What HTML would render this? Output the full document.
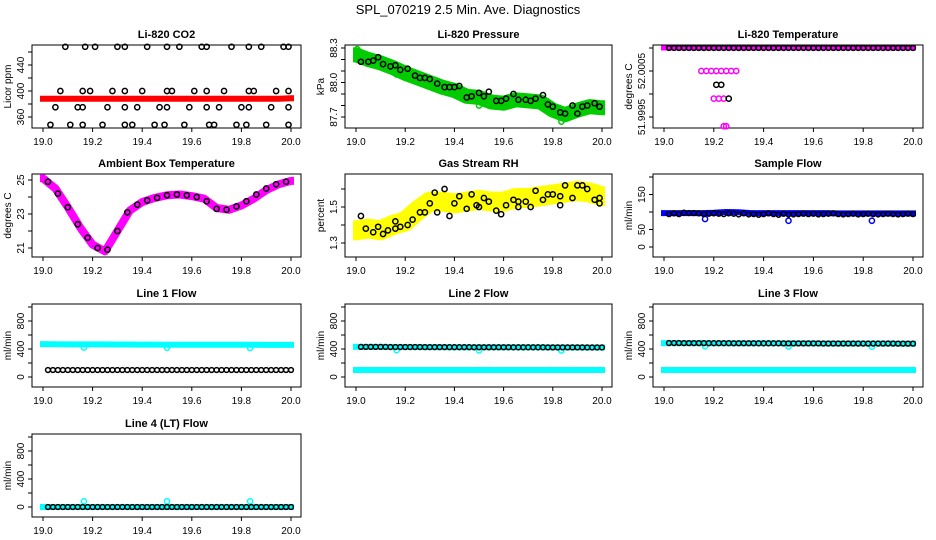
<!DOCTYPE html>
<html><head><meta charset="utf-8"><style>
html,body{margin:0;padding:0;background:#fff}
svg{display:block;font-family:"Liberation Sans",sans-serif}
</style></head><body>
<svg id="c" width="936" height="540" viewBox="0 0 936 540" xmlns="http://www.w3.org/2000/svg">
<text x="468" y="14" text-anchor="middle" font-size="13">SPL_070219  2.5 Min. Ave. Diagnostics</text>
</svg>
<script>
// ---- data arrays ----
const xTickLabels = ["19.0","19.2","19.4","19.6","19.8","20.0"];
const xTicks = [19.0,19.2,19.4,19.6,19.8,20.0];
const bandX = [19.0,19.05,19.1,19.15,19.2,19.25,19.3,19.35,19.4,19.45,19.5,19.55,19.6,19.65,19.7,19.75,19.8,19.85,19.9,19.95,20.0];
// CO2
const co2Red = [388,388,388,388,388,388,388,388,388,388,388,388,388,388,388,388,388,388,388,388,389];
const co2BlackX = [19.09,19.17,19.21,19.30,19.33,19.42,19.50,19.55,19.64,19.66,19.76,19.83,19.88,19.97,19.99,
 19.07,19.16,19.19,19.28,19.33,19.40,19.50,19.52,19.61,19.66,19.73,19.83,19.85,19.94,19.99,
 19.05,19.14,19.16,19.26,19.33,19.38,19.47,19.50,19.59,19.66,19.71,19.80,19.83,19.92,19.99,
 19.03,19.11,19.16,19.24,19.33,19.36,19.45,19.49,19.57,19.67,19.69,19.78,19.82,19.90,19.99];
const co2BlackY = [468,468,468,468,468,468,468,468,468,468,468,468,468,468,468,
 400,400,400,400,400,400,400,400,400,400,400,400,400,400,400,
 375,375,375,375,375,375,375,375,375,375,375,375,375,375,375,
 348,348,348,348,348,348,348,348,348,348,348,348,348,348,348];
// Pressure
const presGreen = [88.24,88.2,88.17,88.13,88.08,88.04,88.0,87.96,87.93,87.88,87.87,87.83,87.82,87.85,87.84,87.83,87.76,87.72,87.76,87.79,87.78];
const presBlackX = [19.02,19.05,19.07,19.09,19.11,19.14,19.16,19.18,19.21,19.24,19.26,19.28,19.30,19.33,19.36,19.38,19.40,19.42,19.45,19.47,19.50,19.52,19.54,19.57,19.59,19.61,19.64,19.66,19.69,19.71,19.73,19.76,19.78,19.80,19.83,19.85,19.88,19.90,19.92,19.94,19.97,19.99];
const presBlack = [88.18,88.18,88.19,88.22,88.16,88.14,88.15,88.11,88.12,88.06,88.04,88.04,88.03,87.99,87.96,87.96,87.96,87.97,87.87,87.88,87.91,87.88,87.92,87.84,87.84,87.86,87.90,87.85,87.85,87.84,87.86,87.89,87.81,87.79,87.74,87.73,87.80,87.73,87.79,87.80,87.82,87.79];
const presGreenOut = [[19.005,88.29],[19.165,88.07],[19.5,87.8],[19.835,87.66]];
// Li-820 temperature
const tempMain = 52.001;
const tempClusterX = [19.15,19.17,19.19,19.21,19.23,19.25,19.27,19.29,19.21,19.23,19.2,19.22,19.24,19.26,19.24,19.25];
const tempClusterY = [52.0005,52.0005,52.0005,52.0005,52.0005,52.0005,52.0005,52.0005,52.0002,52.0002,51.9999,51.9999,51.9999,51.9999,51.9993,51.9993];
const tempClusterC = ["m","m","m","m","m","m","m","m","k","k","m","m","m","k","m","m"];
// Ambient
const ambBand = [25.1,24.5,23.4,22.2,21.2,20.8,22.0,23.2,23.7,23.95,24.1,24.15,24.05,23.9,23.35,23.25,23.5,23.9,24.4,24.75,24.95];
const ambBlackX = [19.02,19.06,19.10,19.14,19.18,19.22,19.26,19.30,19.34,19.38,19.42,19.46,19.50,19.54,19.58,19.62,19.66,19.70,19.74,19.78,19.82,19.86,19.90,19.94,19.98];
const ambBlack = [24.9,24.2,23.4,22.4,21.6,21.0,20.9,22.0,23.1,23.55,23.8,23.95,24.1,24.15,24.1,24.0,23.75,23.3,23.25,23.45,23.75,24.15,24.5,24.75,24.9];
// RH
const rhBand = [1.37,1.38,1.37,1.40,1.42,1.48,1.53,1.53,1.52,1.53,1.54,1.53,1.53,1.55,1.55,1.56,1.57,1.58,1.59,1.58,1.56];
const rhBlackX = [19.02,19.04,19.07,19.09,19.11,19.13,19.16,19.16,19.18,19.21,19.23,19.26,19.28,19.30,19.32,19.33,19.36,19.38,19.40,19.42,19.45,19.47,19.49,19.50,19.52,19.54,19.57,19.59,19.61,19.64,19.66,19.66,19.69,19.71,19.73,19.76,19.78,19.80,19.83,19.83,19.85,19.88,19.90,19.92,19.94,19.97,19.99,19.99];
const rhBlack = [1.45,1.38,1.36,1.39,1.35,1.37,1.42,1.38,1.39,1.40,1.43,1.47,1.47,1.52,1.58,1.47,1.60,1.45,1.52,1.56,1.49,1.57,1.51,1.50,1.55,1.53,1.48,1.46,1.51,1.54,1.50,1.53,1.53,1.50,1.59,1.54,1.57,1.57,1.56,1.51,1.62,1.55,1.62,1.62,1.60,1.54,1.55,1.52];
// Sample flow
const sfBand = [97,97,97,97,98,100,99,97,97,97,97,97,97,97,96,96,96,96,96,96,96];
const sfBlack = [93,94,96,94,98,97,97,96,94,95,96,95,94,96,95,93,96,93,94,92,94,96,94,92,95,93,94,95,94,95,93,94,95,96,94,93,94,95,93,94,95,94,93,94,95,94,93,94,95,94];
const dipX = [19.165,19.5,19.835];
const sfDip = [80,75,75];
// Line flows
const l1Cyan = [470,468,466,466,465,465,464,464,463,463,462,462,462,461,461,460,460,460,459,459,458];
const l1Black = [100,100,100,100,100,100,100,100,100,100,100,100,100,100,100,100,100,100,100,100,100];
const l2Cyan = [100,100,100,100,100,100,100,100,100,100,100,100,100,100,100,100,100,100,100,100,100];
const l2Black = [430,430,430,428,428,428,427,427,426,426,425,425,425,424,424,424,423,423,423,422,422];
const l3Cyan = [100,100,100,100,100,100,100,100,100,100,100,100,100,100,100,100,100,100,100,100,100];
const l3Black = [485,485,484,484,483,483,482,482,481,481,480,480,480,479,479,479,478,478,478,477,477];
const l4Cyan = [0,0,0,0,0,0,0,0,0,0,0,0,0,0,0,0,0,0,0,0,0];
const l4Black = [0,0,0,0,0,0,0,0,0,0,0,0,0,0,0,0,0,0,0,0,0];
const l4Bump = [80,80,80];

// ---- drawing ----
const svg = document.getElementById('c');
const NS = 'http://www.w3.org/2000/svg';
function mk(tag, attrs, parent, name){
  const e = document.createElementNS(NS, tag);
  for (const k in attrs) e.setAttribute(k, attrs[k]);
  
  
  (parent||svg).appendChild(e);
  return e;
}
const colL = [32,345,653], colW = [269,267,270];
const rowT = [45,174,304,434], H = 83;

function panel(col,row,title,ylab,v0,p0,k,yticks,ylabels,slug){
  const L = colL[col], W = colW[col], T = rowT[row], B = T+H;
  const pxu = (W-21)/1.0;
  const g = mk('g',{},svg,slug+'-panel');
  const X = v => L + 11 + (v-19)*pxu;
  const Y = v => p0 - (v-v0)*k;
  mk('rect',{x:L,y:T,width:W,height:H,fill:'none',stroke:'#000','stroke-width':1},g,slug+'-plot-box');
  mk('text',{x:L+W/2,y:T-7,'text-anchor':'middle','font-size':11,'font-weight':'bold'},g,slug+'-title').textContent = title;
  mk('line',{x1:X(19),x2:X(20),y1:B,y2:B,stroke:'#000'},g,slug+'-x-axis');
  xTicks.forEach((t,i)=>{
    mk('line',{x1:X(t),x2:X(t),y1:B,y2:B+4,stroke:'#000'},g,slug+'-x-tick');
    mk('text',{x:X(t),y:B+17,'text-anchor':'middle','font-size':10},g,slug+'-x-tick-label').textContent = xTickLabels[i];
  });
  const ys = yticks.map(Y);
  mk('line',{x1:L,x2:L,y1:Math.min(...ys),y2:Math.max(...ys),stroke:'#000'},g,slug+'-y-axis');
  yticks.forEach((t,i)=>{
    mk('line',{x1:L-4,x2:L,y1:Y(t),y2:Y(t),stroke:'#000'},g,slug+'-y-tick');
    if (ylabels[i]) {
      const tx = mk('text',{x:0,y:0,'text-anchor':'middle','font-size':10,transform:`translate(${L-8},${Y(t)}) rotate(-90)`},g,slug+'-y-tick-label');
      tx.textContent = ylabels[i];
    }
  });
  mk('text',{x:0,y:0,'text-anchor':'middle','font-size':10,transform:`translate(${L-21},${T+H/2}) rotate(-90)`},g,slug+'-y-axis-title').textContent = ylab;
  return {g,X,Y};
}
// thick band: horizontal extension of ~3px past the end points (like marker radius)
function band(p,xs,vs,color,w,name){
  const n = xs.length;
  let d = 'M'+(p.X(xs[0])-3).toFixed(1)+','+p.Y(vs[0]).toFixed(1);
  d += xs.map((x,i)=>'L'+p.X(x).toFixed(1)+','+p.Y(vs[i]).toFixed(1)).join('');
  d += 'L'+(p.X(xs[n-1])+3).toFixed(1)+','+p.Y(vs[n-1]).toFixed(1);
  mk('path',{d,fill:'none',stroke:color,'stroke-width':w,'stroke-linejoin':'round','stroke-linecap':'butt'},p.g,name);
}
function pts(p,xs,vs,color,name,r){
  xs.forEach((x,i)=>{
    mk('circle',{cx:p.X(x),cy:p.Y(vs[i]),r:r||2.6,fill:'none',stroke:color,'stroke-width':1.5},p.g,name);
  });
}
function blackDense(p,vs,name){
  const n = 50;
  for (let i=0;i<n;i++){
    const x = 19.02 + i*0.02;
    const j = Math.min(vs.length-1, Math.round((x-19)/1.0*(vs.length-1)));
    mk('circle',{cx:p.X(x),cy:p.Y(vs[j]),r:2.4,fill:'none',stroke:'#000','stroke-width':1.5},p.g,name);
  }
}

// CO2
let p = panel(0,0,'Li-820 CO2','Licor ppm',360,117,0.65,[360,380,400,420,440,460],['360','','400','','440',''],'co2');
band(p,bandX,co2Red,'#ff0000',6,'co2-red-series');
pts(p,co2BlackX,co2BlackY,'#000','co2-black-point');

// Pressure
p = panel(1,0,'Li-820 Pressure','kPa',88.3,48,115,[87.7,87.8,87.9,88.0,88.1,88.2,88.3],['87.7','','','88.0','','','88.3'],'pressure');
band(p,bandX,presGreen,'#00cc00',15,'pressure-green-series');
pts(p,presGreenOut.map(a=>a[0]),presGreenOut.map(a=>a[1]),'#00cc00','pressure-green-point');
pts(p,presBlackX,presBlack,'#000','pressure-black-point');

// Li-820 temperature
p = panel(2,0,'Li-820 Temperature','degrees C',52.0,94,46000,[51.9995,52.0,52.0005,52.001],['51.9995','','52.0005',''],'li820-temp');
band(p,[19.0,20.0],[tempMain,tempMain],'#ff00ff',5,'temp-magenta-series');
for (let i=0;i<50;i++){ mk('circle',{cx:p.X(19.02+i*0.02),cy:p.Y(tempMain),r:2.4,fill:'none',stroke:'#000','stroke-width':1.5},p.g,'temp-black-point'); }
tempClusterX.forEach((x,i)=>{ mk('circle',{cx:p.X(x),cy:p.Y(tempClusterY[i]),r:2.6,fill:'none',stroke:tempClusterC[i]==='m'?'#ff00ff':'#000','stroke-width':1.5},p.g,'temp-cluster-point'); });

// Ambient
p = panel(0,1,'Ambient Box Temperature','degrees C',21,248,17,[21,22,23,24,25],['21','','23','','25'],'ambient');
band(p,bandX,ambBand,'#ff00ff',8,'ambient-magenta-series');
pts(p,ambBlackX,ambBlack,'#000','ambient-black-point');

// RH
p = panel(1,1,'Gas Stream RH','percent',1.5,207,180,[1.3,1.4,1.5,1.6],['1.3','','1.5',''],'rh');
band(p,bandX,rhBand,'#ffff00',20,'rh-yellow-series');
pts(p,rhBlackX,rhBlack,'#000','rh-black-point');

// Sample flow
p = panel(2,1,'Sample Flow','ml/min',0,247,0.35,[0,50,100,150,200],['0','50','','150',''],'sample-flow');
band(p,bandX,sfBand,'#0000ff',6,'sample-flow-blue-series');
pts(p,dipX,sfDip,'#0000ff','sample-flow-blue-dip');
blackDense(p,sfBlack,'sample-flow-black-point');

// Line flows
function flow(col,row,title,slug,cyanA,cyanB,black,bumps){
  const p0 = rowT[row]+73;
  const q = panel(col,row,title,'ml/min',0,p0,0.07,[0,200,400,600,800,1000],['0','','400','','800',''],slug);
  band(q,bandX,cyanA,'#00ffff',6,slug+'-cyan-series');
  if (cyanB) band(q,bandX,cyanB,'#00ffff',6,slug+'-cyan-series-2');
  const dips = bumps || dipX.map(x=>cyanA[Math.round((x-19)*20)]-45);
  pts(q,dipX,dips,'#00ffff',slug+'-cyan-dip');
  blackDense(q,black,slug+'-black-point');
}
flow(0,2,'Line 1 Flow','line1',l1Cyan,null,l1Black);
flow(1,2,'Line 2 Flow','line2',l2Black,l2Cyan,l2Black);
flow(2,2,'Line 3 Flow','line3',l3Black,l3Cyan,l3Black);
flow(0,3,'Line 4 (LT) Flow','line4',l4Cyan,null,l4Black,l4Bump);
</script>
</body></html>
